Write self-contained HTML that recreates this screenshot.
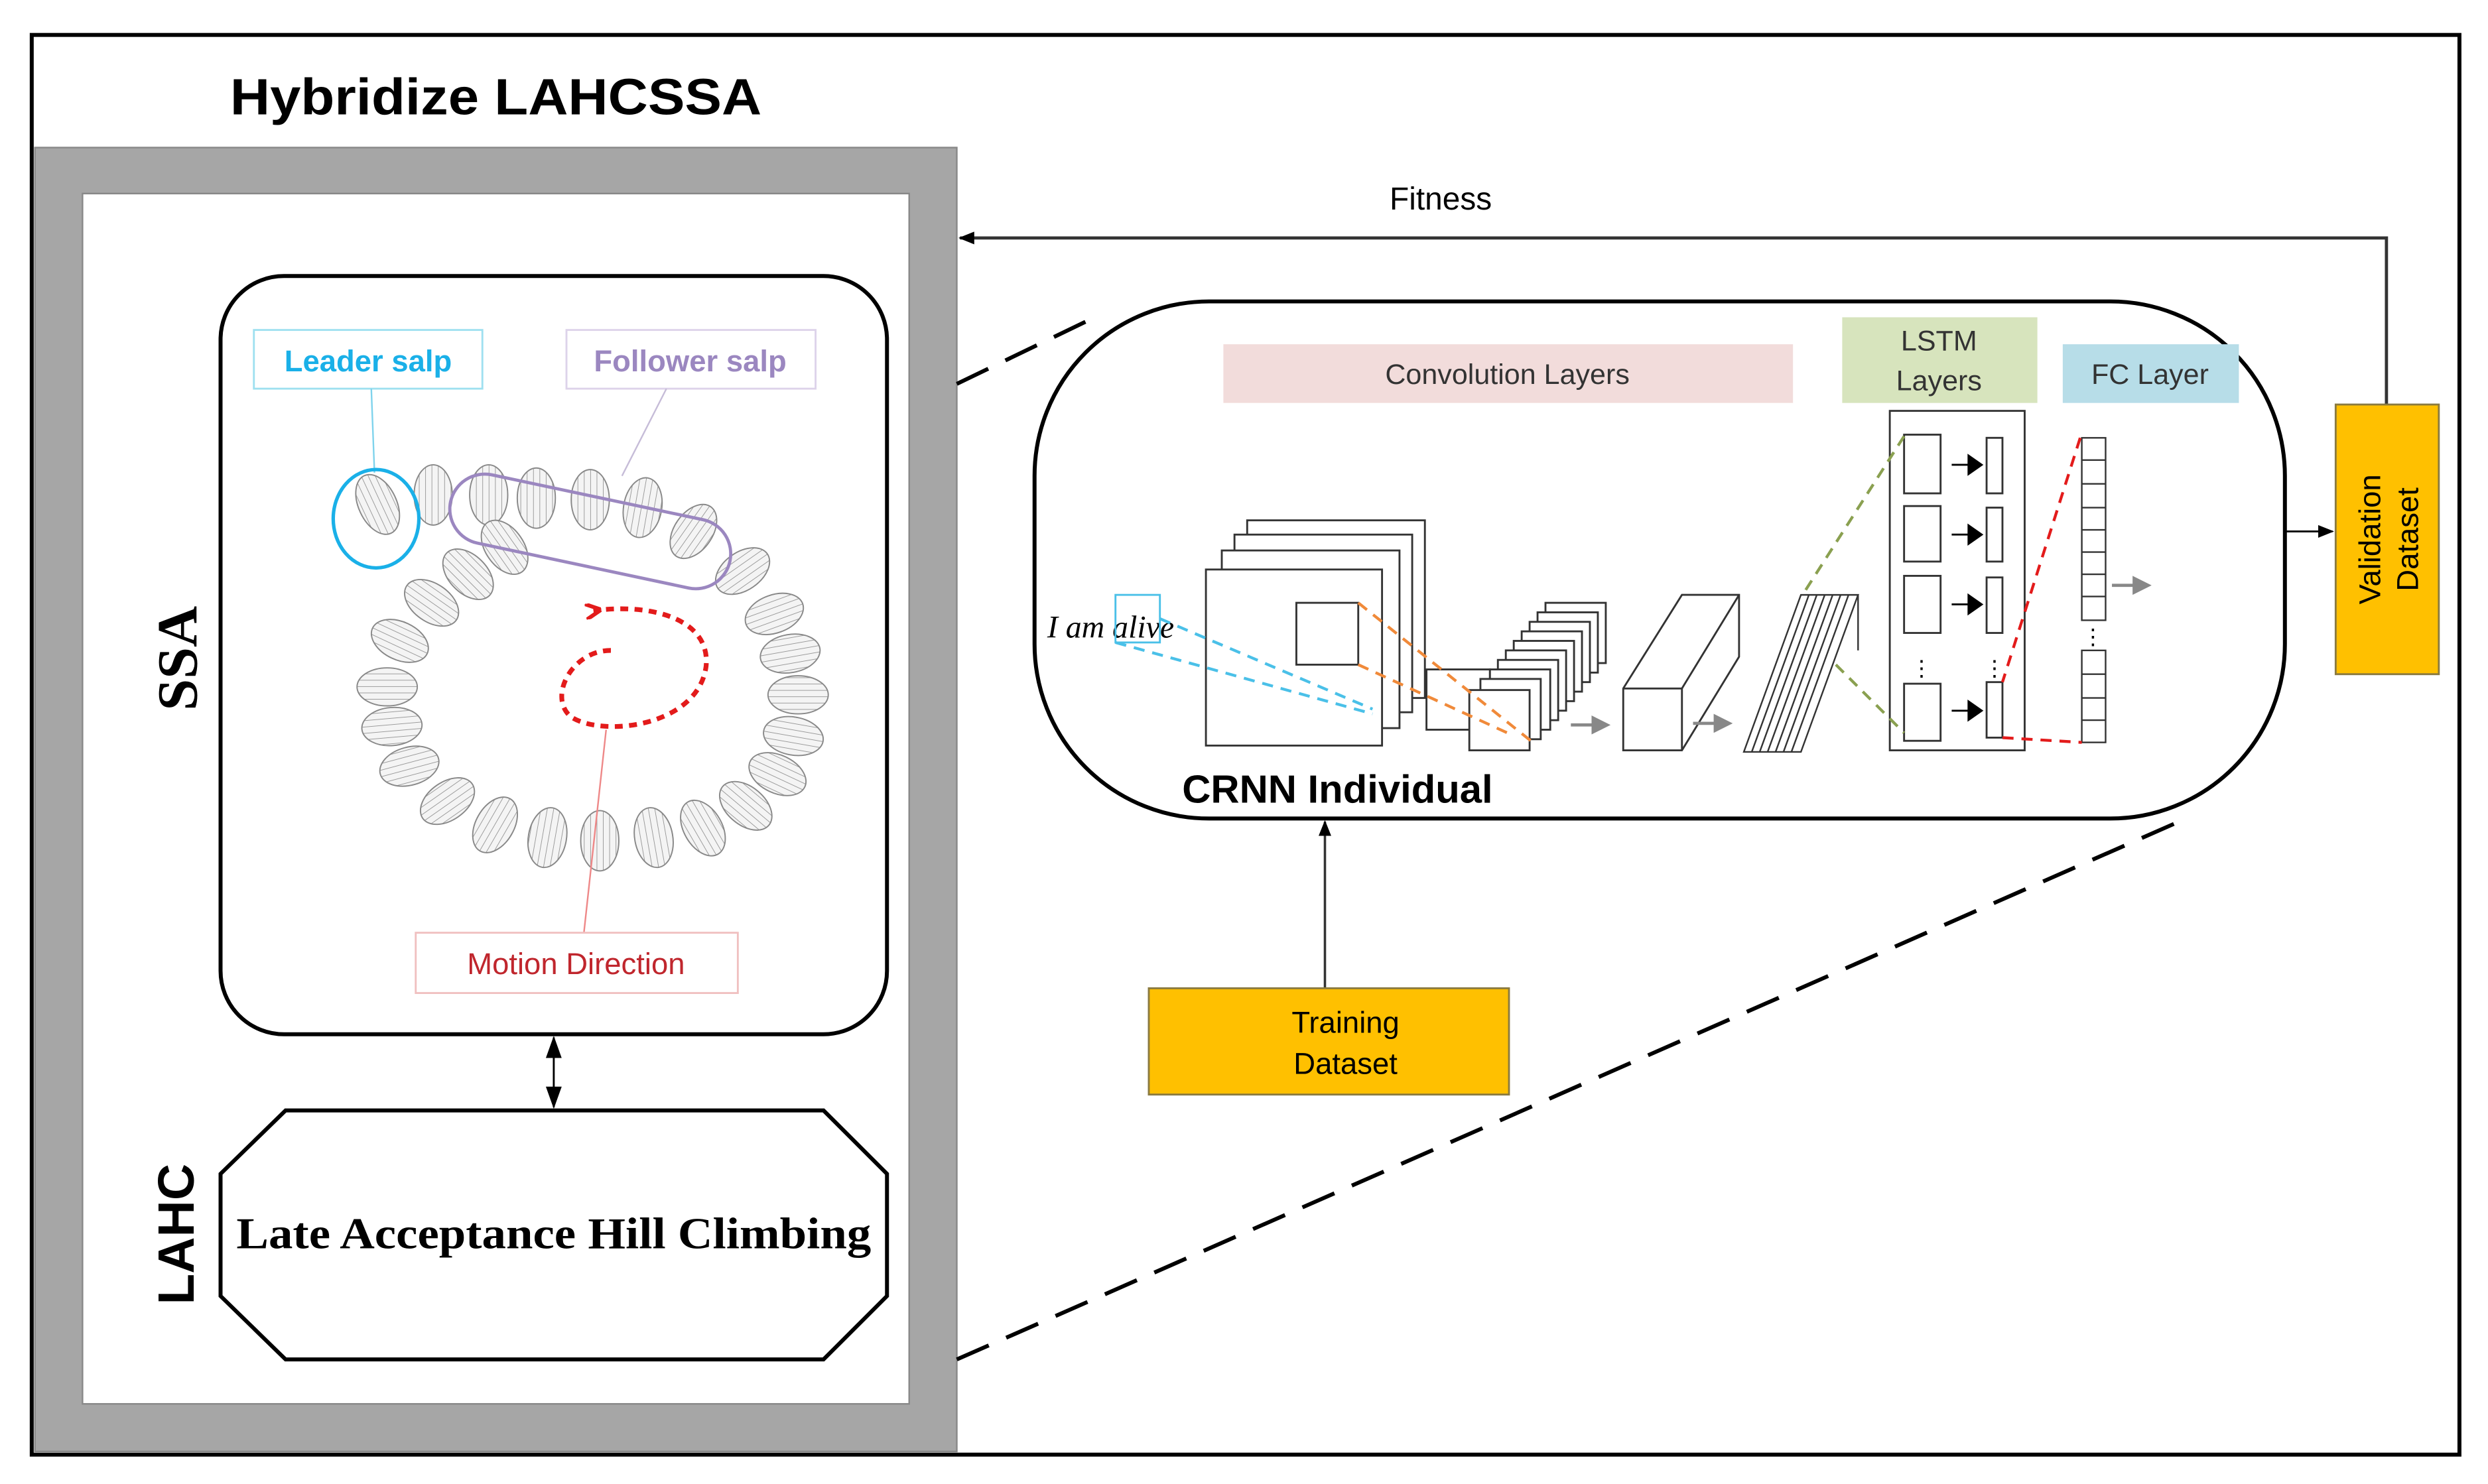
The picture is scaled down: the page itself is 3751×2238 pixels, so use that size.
<!DOCTYPE html>
<html><head><meta charset="utf-8"><style>
html,body{margin:0;padding:0;background:#fff;}
svg{display:block;}
text{font-family:"Liberation Sans",sans-serif;}
</style></head><body>
<svg width="3751" height="2238" viewBox="0 0 1568 935.5" xmlns="http://www.w3.org/2000/svg">
<defs>
<pattern id="st" width="4" height="4" patternUnits="userSpaceOnUse"><rect width="4" height="4" fill="#f4f4f4"/><line x1="0" y1="0" x2="0" y2="4" stroke="#9a9a9a" stroke-width="0.8"/></pattern>
<marker id="ah" markerWidth="10" markerHeight="8" refX="9" refY="4" orient="auto" markerUnits="userSpaceOnUse"><path d="M0,0 L10,4 L0,8 z" fill="#000"/></marker>
<marker id="ahs" markerWidth="14" markerHeight="10" refX="13" refY="5" orient="auto-start-reverse" markerUnits="userSpaceOnUse"><path d="M0,0 L14,5 L0,10 z" fill="#000"/></marker>
<marker id="ga" markerWidth="12" markerHeight="12" refX="2" refY="6" orient="auto" markerUnits="userSpaceOnUse"><path d="M0,0 L12,6 L0,12 z" fill="#888"/></marker>
<marker id="ra" markerWidth="10" markerHeight="10" refX="5" refY="5" orient="auto" markerUnits="userSpaceOnUse"><path d="M10,0 L0,5 L10,10" fill="none" stroke="#e31b1b" stroke-width="2.5"/></marker>
</defs>
<rect x="0" y="0" width="1568" height="935.5" fill="#fff"/>
<rect x="20" y="22" width="1530" height="895" fill="none" stroke="#000" stroke-width="2.5"/>
<text x="145" y="72" font-size="32" font-weight="bold" textLength="335" lengthAdjust="spacingAndGlyphs">Hybridize LAHCSSA</text>
<rect x="22" y="93" width="581" height="822" fill="#a6a6a6" stroke="#888" stroke-width="1"/>
<rect x="52" y="122" width="521" height="763" fill="#fff" stroke="#888" stroke-width="1"/>
<rect x="139" y="174" width="420" height="478" rx="40" fill="#fff" stroke="#000" stroke-width="2.5"/>
<rect x="160" y="208" width="144" height="37" fill="#fff" stroke="#9fe0f0" stroke-width="1.2"/>
<text x="232" y="234" font-size="19" fill="#1ab0e8" text-anchor="middle" font-weight="bold">Leader salp</text>
<rect x="357" y="208" width="157" height="37" fill="#fff" stroke="#ddd3ea" stroke-width="1.2"/>
<text x="435" y="234" font-size="19" fill="#9b87c0" text-anchor="middle" font-weight="bold">Follower salp</text>
<line x1="234" y1="245" x2="236" y2="298" stroke="#7fd3ec" stroke-width="1"/>
<line x1="420" y1="245" x2="392" y2="300" stroke="#c6bcd8" stroke-width="1"/>
<g stroke="#888" stroke-width="0.8" fill="url(#st)">
<ellipse cx="238" cy="318" rx="12" ry="20" transform="rotate(-25 238 318)"/>
<ellipse cx="273" cy="312" rx="12" ry="19"/>
<ellipse cx="308" cy="312" rx="12" ry="19"/>
<ellipse cx="338" cy="314" rx="12" ry="19"/>
<ellipse cx="372" cy="315" rx="12" ry="19"/>
<ellipse cx="405" cy="320" rx="12" ry="19" transform="rotate(10 405 320)"/>
<ellipse cx="437" cy="335" rx="12" ry="19" transform="rotate(35 437 335)"/>
<ellipse cx="468" cy="360" rx="12" ry="19" transform="rotate(55 468 360)"/>
<ellipse cx="488" cy="387" rx="12" ry="19" transform="rotate(70 488 387)"/>
<ellipse cx="498" cy="412" rx="12" ry="19" transform="rotate(80 498 412)"/>
<ellipse cx="503" cy="438" rx="12" ry="19" transform="rotate(90 503 438)"/>
<ellipse cx="500" cy="464" rx="12" ry="19" transform="rotate(100 500 464)"/>
<ellipse cx="490" cy="488" rx="12" ry="19" transform="rotate(115 490 488)"/>
<ellipse cx="470" cy="508" rx="12" ry="19" transform="rotate(130 470 508)"/>
<ellipse cx="443" cy="522" rx="12" ry="19" transform="rotate(150 443 522)"/>
<ellipse cx="412" cy="528" rx="12" ry="19" transform="rotate(170 412 528)"/>
<ellipse cx="378" cy="530" rx="12" ry="19"/>
<ellipse cx="345" cy="528" rx="12" ry="19" transform="rotate(-170 345 528)"/>
<ellipse cx="312" cy="520" rx="12" ry="19" transform="rotate(-150 312 520)"/>
<ellipse cx="282" cy="505" rx="12" ry="19" transform="rotate(-125 282 505)"/>
<ellipse cx="258" cy="483" rx="12" ry="19" transform="rotate(-105 258 483)"/>
<ellipse cx="247" cy="458" rx="12" ry="19" transform="rotate(-95 247 458)"/>
<ellipse cx="244" cy="433" rx="12" ry="19" transform="rotate(-90 244 433)"/>
<ellipse cx="252" cy="404" rx="12" ry="19" transform="rotate(-65 252 404)"/>
<ellipse cx="272" cy="380" rx="12" ry="19" transform="rotate(-55 272 380)"/>
<ellipse cx="295" cy="362" rx="12" ry="19" transform="rotate(-45 295 362)"/>
<ellipse cx="318" cy="345" rx="12" ry="19" transform="rotate(-35 318 345)"/>
</g>
<ellipse cx="237" cy="327" rx="27" ry="31" fill="none" stroke="#1ab0e8" stroke-width="2.2"/>
<rect x="282" y="313" width="180" height="44" rx="22" fill="none" stroke="#9b87c0" stroke-width="2" transform="rotate(12 372 335)"/>
<path d="M385,410 C360,410 345,440 360,452 C380,465 440,458 445,420 C448,390 410,380 374,385" fill="none" stroke="#e31b1b" stroke-width="3" stroke-dasharray="5,4" marker-end="url(#ra)"/>
<line x1="382" y1="460" x2="368" y2="588" stroke="#e88" stroke-width="1"/>
<rect x="262" y="588" width="203" height="38" fill="#fff" stroke="#f0c0c0" stroke-width="1.2"/>
<text x="363" y="614" font-size="19" fill="#c0262d" text-anchor="middle">Motion Direction</text>
<text transform="translate(124,415) rotate(-90)" font-size="36" font-weight="bold" text-anchor="middle" style="font-family:'Liberation Serif',serif">SSA</text>
<line x1="349" y1="654" x2="349" y2="698" stroke="#000" stroke-width="1.2" marker-start="url(#ahs)" marker-end="url(#ahs)"/>
<polygon points="180,700 519,700 559,740 559,817 519,857 180,857 139,817 139,740" fill="#fff" stroke="#000" stroke-width="2.5"/>
<text x="349" y="787" font-size="28" font-weight="bold" text-anchor="middle" style="font-family:'Liberation Serif',serif" textLength="400" lengthAdjust="spacingAndGlyphs">Late Acceptance Hill Climbing</text>
<text transform="translate(122,778) rotate(-90)" font-size="32" font-weight="bold" text-anchor="middle">LAHC</text>
<line x1="603" y1="242" x2="690" y2="200" stroke="#000" stroke-width="2.5" stroke-dasharray="22,12"/>
<line x1="603" y1="857" x2="1380" y2="515" stroke="#000" stroke-width="2.5" stroke-dasharray="22,12"/>
<rect x="652" y="190" width="788" height="326" rx="110" fill="#fff" stroke="#000" stroke-width="2.5"/>
<polyline points="1504,255 1504,150 605,150" fill="none" stroke="#333" stroke-width="2" marker-end="url(#ah)"/>
<text x="908" y="132" font-size="20" text-anchor="middle">Fitness</text>
<line x1="1440" y1="335" x2="1470" y2="335" stroke="#000" stroke-width="1.2" marker-end="url(#ah)"/>
<rect x="1472" y="255" width="65" height="170" fill="#ffc000" stroke="#8a7a40" stroke-width="1.2"/>
<text transform="translate(1504,340) rotate(-90)" font-size="19" text-anchor="middle"><tspan x="0" y="-4">Validation</tspan><tspan x="0" y="20">Dataset</tspan></text>
<line x1="835" y1="623" x2="835" y2="518" stroke="#333" stroke-width="1.5" marker-end="url(#ah)"/>
<rect x="724" y="623" width="227" height="67" fill="#ffc000" stroke="#8a7a40" stroke-width="1.2"/>
<text x="848" y="651" font-size="19" text-anchor="middle">Training</text>
<text x="848" y="677" font-size="19" text-anchor="middle">Dataset</text>
<rect x="771" y="217" width="359" height="37" fill="#f2dcdb"/>
<text x="950" y="242" font-size="18" text-anchor="middle" fill="#333">Convolution Layers</text>
<rect x="1161" y="200" width="123" height="54" fill="#d7e4bd"/>
<text x="1222" y="221" font-size="18" text-anchor="middle" fill="#333">LSTM</text>
<text x="1222" y="246" font-size="18" text-anchor="middle" fill="#333">Layers</text>
<rect x="1300" y="217" width="111" height="37" fill="#b7dde8"/>
<text x="1355" y="242" font-size="18" text-anchor="middle" fill="#333">FC Layer</text>
<text x="745" y="506" font-size="25" font-weight="bold">CRNN Individual</text>
<text x="660" y="402" font-size="20" font-style="italic" style="font-family:'Liberation Serif',serif">I am alive</text>
<rect x="703" y="375" width="28" height="30" fill="none" stroke="#4ac0e8" stroke-width="1.2"/>
<g fill="#fff" stroke="#333" stroke-width="1.2">
<rect x="786" y="328" width="112" height="112"/>
<rect x="778" y="337" width="112" height="112"/>
<rect x="770" y="347" width="112" height="112"/>
<rect x="760" y="359" width="111" height="111"/>
<rect x="817" y="380" width="39" height="39"/>
<rect x="899" y="422" width="40" height="38"/>
<rect x="974" y="380" width="38" height="38"/>
<rect x="969" y="386" width="38" height="38"/>
<rect x="964" y="392" width="38" height="38"/>
<rect x="959" y="398" width="38" height="38"/>
<rect x="954" y="404" width="38" height="38"/>
<rect x="949" y="410" width="38" height="38"/>
<rect x="944" y="416" width="38" height="38"/>
<rect x="939" y="422" width="38" height="38"/>
<rect x="933" y="428" width="38" height="38"/>
<rect x="926" y="435" width="38" height="38"/>
<polygon points="1023,434 1060,375 1096,375 1096,414 1060,473 1023,473"/>
<polyline points="1023,434 1060,434 1096,375" fill="none"/>
<line x1="1060" y1="434" x2="1060" y2="473"/>
<rect x="1191" y="259" width="85" height="214"/>
<rect x="1200" y="274" width="23" height="37"/><rect x="1252" y="276" width="10" height="35"/>
<rect x="1200" y="319" width="23" height="35"/><rect x="1252" y="320" width="10" height="34"/>
<rect x="1200" y="363" width="23" height="36"/><rect x="1252" y="364" width="10" height="35"/>
<rect x="1200" y="431" width="23" height="36"/><rect x="1252" y="430" width="10" height="35"/>
</g>
<g fill="none" stroke="#333" stroke-width="1">
<path d="M1099,474 L1135,375 L1171,375 L1135,474 Z"/>
<line x1="1104" y1="474" x2="1140" y2="375"/><line x1="1109" y1="474" x2="1145" y2="375"/>
<line x1="1114" y1="474" x2="1150" y2="375"/><line x1="1119" y1="474" x2="1155" y2="375"/>
<line x1="1124" y1="474" x2="1160" y2="375"/><line x1="1129" y1="474" x2="1165" y2="375"/>
<line x1="1171" y1="375" x2="1171" y2="410"/>
</g>
<g fill="#000">
<path d="M1240,286 L1250,293 L1240,300 Z"/><path d="M1240,330 L1250,337 L1240,344 Z"/>
<path d="M1240,374 L1250,381 L1240,388 Z"/><path d="M1240,441 L1250,448 L1240,455 Z"/>
</g>
<g stroke="#000" stroke-width="1.2"><line x1="1230" y1="293" x2="1242" y2="293"/><line x1="1230" y1="337" x2="1242" y2="337"/><line x1="1230" y1="381" x2="1242" y2="381"/><line x1="1230" y1="448" x2="1242" y2="448"/></g>
<text x="1211" y="426" font-size="14" text-anchor="middle">⋮</text>
<text x="1257" y="426" font-size="14" text-anchor="middle">⋮</text>
<g fill="#fff" stroke="#333" stroke-width="1">
<rect x="1312" y="276" width="15" height="115"/>
<rect x="1312" y="410" width="15" height="58"/>
</g>
<g stroke="#333" stroke-width="1">
<line x1="1312" y1="290" x2="1327" y2="290"/><line x1="1312" y1="305" x2="1327" y2="305"/><line x1="1312" y1="320" x2="1327" y2="320"/>
<line x1="1312" y1="334" x2="1327" y2="334"/><line x1="1312" y1="348" x2="1327" y2="348"/><line x1="1312" y1="362" x2="1327" y2="362"/>
<line x1="1312" y1="376" x2="1327" y2="376"/><line x1="1312" y1="425" x2="1327" y2="425"/><line x1="1312" y1="440" x2="1327" y2="440"/><line x1="1312" y1="454" x2="1327" y2="454"/>
</g>
<text x="1319" y="406" font-size="14" text-anchor="middle">⋮</text>
<g stroke="#888" stroke-width="2"><line x1="990" y1="457" x2="1005" y2="457" marker-end="url(#ga)"/><line x1="1067" y1="456" x2="1082" y2="456" marker-end="url(#ga)"/><line x1="1331" y1="369" x2="1346" y2="369" marker-end="url(#ga)"/></g>
<g fill="none" stroke-width="1.8" stroke-dasharray="7,5">
<line x1="731" y1="390" x2="865" y2="447" stroke="#4ac0e8"/>
<line x1="703" y1="405" x2="865" y2="450" stroke="#4ac0e8"/>
<line x1="856" y1="380" x2="966" y2="468" stroke="#f08a3a"/>
<line x1="856" y1="419" x2="950" y2="462" stroke="#f08a3a"/>
<line x1="1200" y1="275" x2="1136" y2="375" stroke="#8aa050"/>
<line x1="1157" y1="419" x2="1200" y2="462" stroke="#8aa050"/>
<line x1="1311" y1="276" x2="1262" y2="430" stroke="#e31b1b"/>
<line x1="1262" y1="465" x2="1312" y2="468" stroke="#e31b1b"/>
</g>
</svg>
</body></html>
